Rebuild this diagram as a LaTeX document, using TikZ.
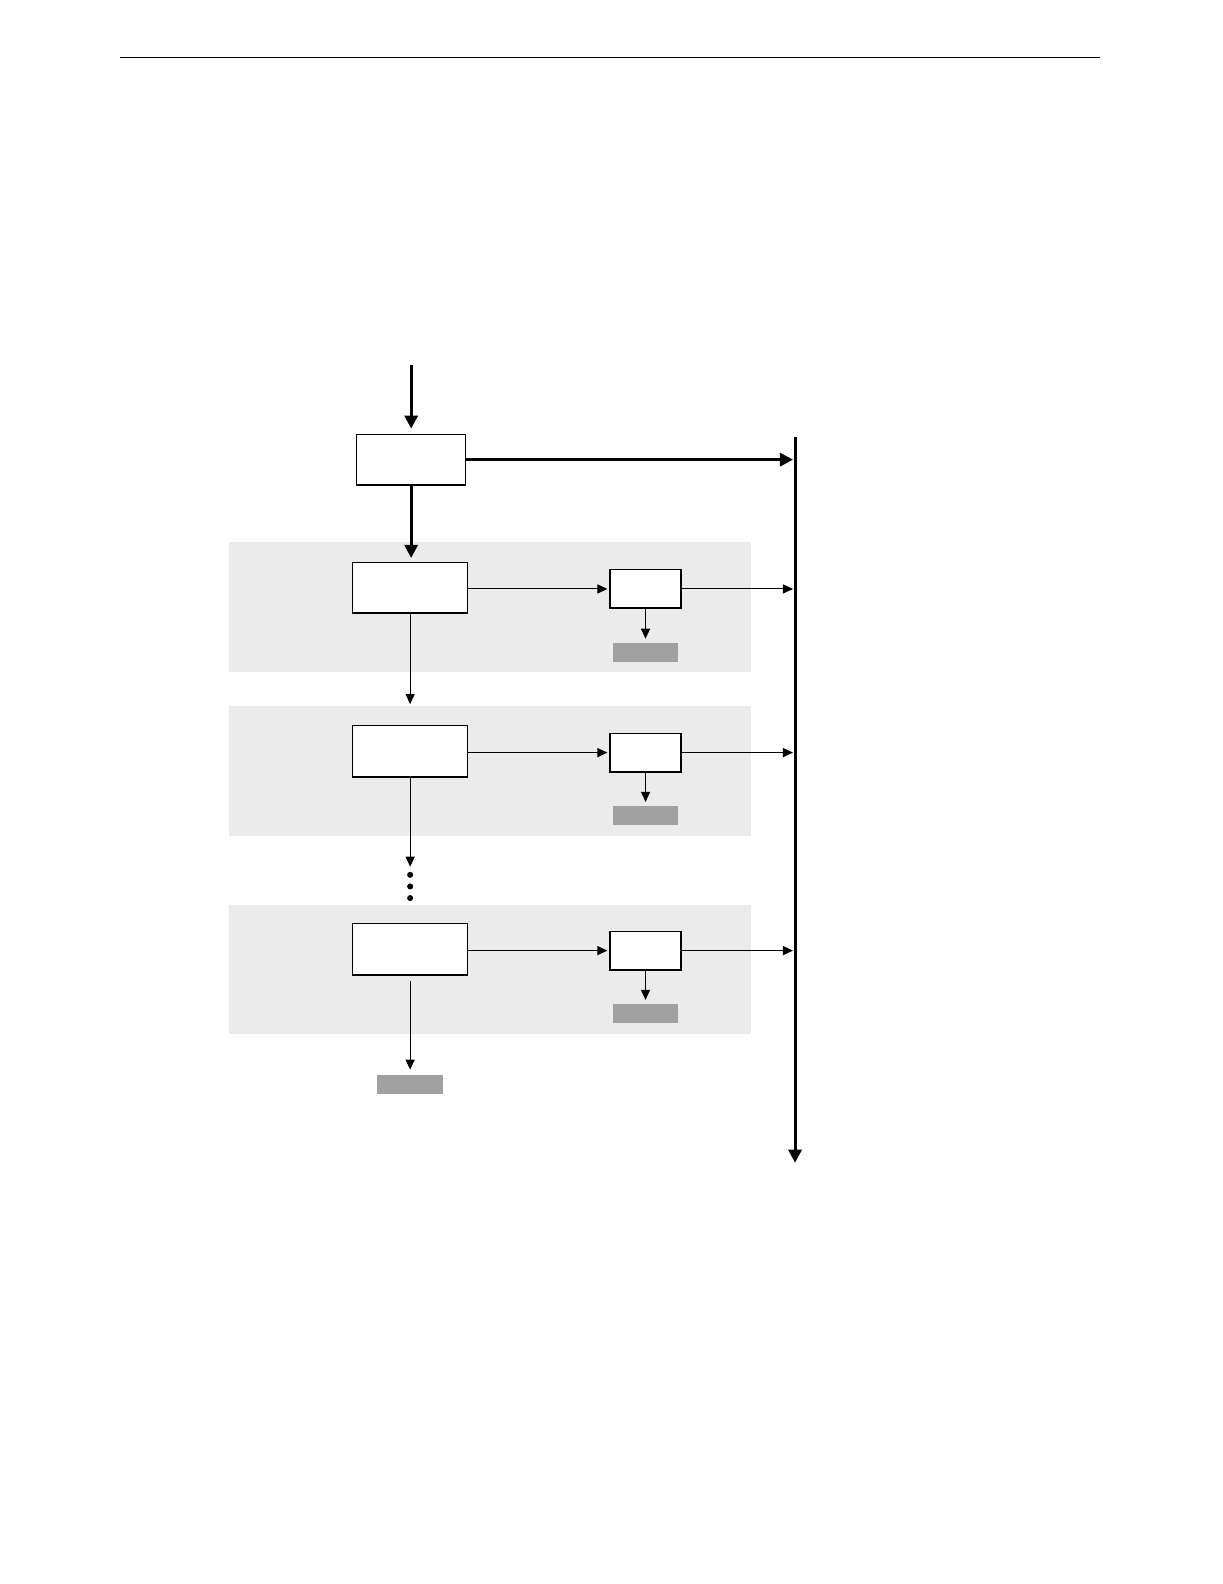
\documentclass[tikz,border=0pt]{standalone}
\usetikzlibrary{arrows.meta}
\begin{document}
\begin{tikzpicture}[x=1pt,y=-1pt,
  panel/.style={fill=black!8,draw=none,inner sep=0pt},
  box/.style={draw,line width=1.4pt,fill=white,inner sep=0pt},
  sink/.style={fill=black!37,draw=none,inner sep=0pt,minimum width=65pt,minimum height=19pt},
  thickarrow/.style={line width=3pt,-{Triangle[length=13pt,width=13pt]}},
  thinarrow/.style={line width=1pt,-{Triangle[length=10pt,width=9pt]}},
  dot/.style={circle,fill=black,inner sep=0pt,minimum size=6pt}]
\useasboundingbox (0,0) rectangle (1210,1568);
\fill[white] (0,0) rectangle (1210,1568);
% header rule
\coordinate (RL) at (119,57);
\coordinate (RR) at (1089,57);
\draw[line width=1pt] (RL) -- (RR);
% panels
\node[panel,minimum width=516pt,minimum height=128pt] (P1) at (485,601) {};
\node[panel,minimum width=516pt,minimum height=129pt] (P2) at (485,763.5) {};
\node[panel,minimum width=516pt,minimum height=128pt] (P3) at (485,960) {};
% vertical bus
\coordinate (Vtop) at (787,433);
\coordinate (Vbot) at (787,1151);
\draw[thickarrow] (Vtop) -- (Vbot);
% top box
\coordinate (In) at (407,361);
\node[box,minimum width=108pt,minimum height=50pt] (A) at (407,455) {};
\draw[thickarrow,shorten >=5pt] (In) -- (A.north);
\coordinate (VA) at (785,455);
\draw[thickarrow] (A.east) -- (VA);
% stage boxes
\node[box,minimum width=114pt,minimum height=50pt] (B1) at (406,582) {};
\node[box,minimum width=114pt,minimum height=51pt] (B2) at (406,743.5) {};
\node[box,minimum width=114pt,minimum height=51pt] (B3) at (406,939.5) {};
\node[box,minimum width=70pt,minimum height=38pt] (C1) at (639,583) {};
\node[box,minimum width=70pt,minimum height=38pt] (C2) at (639,745) {};
\node[box,minimum width=70pt,minimum height=38pt] (C3) at (639,941) {};
\node[sink] (D1) at (639,646) {};
\node[sink] (D2) at (639,807.5) {};
\node[sink] (D3) at (639,1003.5) {};
\node[sink] (E) at (406,1073.5) {};
\draw[thickarrow,shorten >=4pt] (A.south) -- (A.south |- B1.north);
% horizontal arrows
\foreach \i in {1,2,3}{
  \coordinate (V\i) at (C\i.east -| 785,0);
  \draw[thinarrow,shorten >=2pt] (C\i.west -| B\i.east) -- (C\i.west);
  \draw[thinarrow] (C\i.east) -- (V\i);
  \draw[thinarrow,shorten >=4pt] (C\i.south) -- (D\i.north);
}
% vertical chain
\coordinate (T1) at (406,697);
\coordinate (T2) at (406,858);
\draw[thinarrow] (B1.south) -- (T1);
\draw[thinarrow] (B2.south) -- (T2);
\node[dot] (d1) at (406,866) {};
\node[dot] (d2) at (406,877.5) {};
\node[dot] (d3) at (406,889) {};
\draw[thinarrow,shorten <=5pt,shorten >=5pt] (B3.south) -- (E.north);
\end{tikzpicture}
\end{document}
